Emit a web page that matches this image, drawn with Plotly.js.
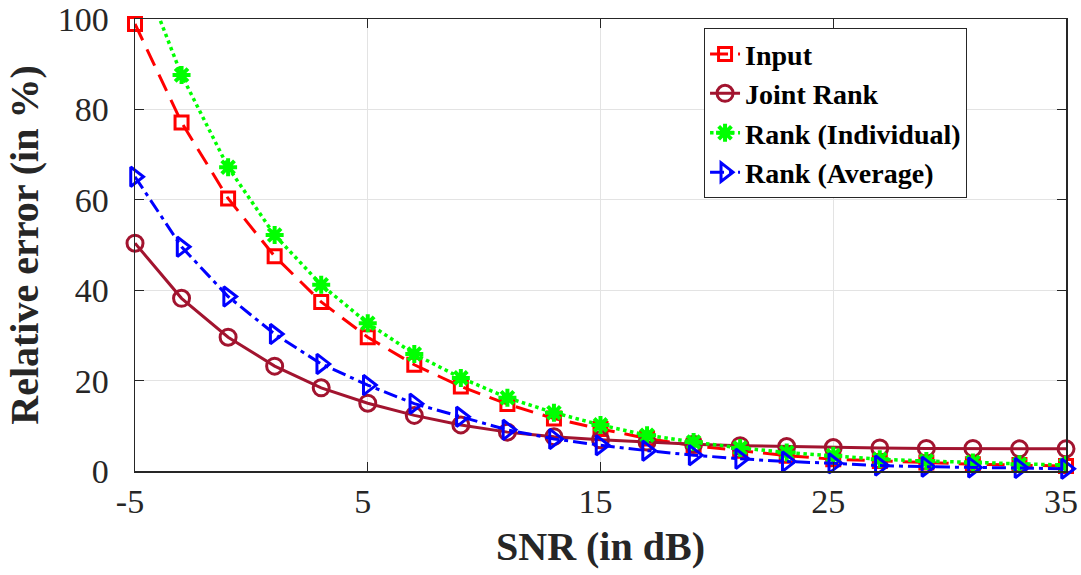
<!DOCTYPE html>
<html>
<head>
<meta charset="utf-8">
<script src="https://cdn.plot.ly/plotly-3.0.1.min.js"></script>
<style>html,body{margin:0;padding:0;background:#fff;}#chart{width:1081px;height:575px;}</style>
</head>
<body>
<div id="chart"></div>
<script>
const snr = [-5,-3,-1,1,3,5,7,9,11,13,15,17,19,21,23,25,27,29,31,33,35];
const inputErr = [98.9,77.1,60.3,47.5,37.4,29.6,23.5,18.7,14.8,11.6,9.3,7.2,5.6,4.5,3.4,2.6,2.2,1.9,1.5,1.3,1.1];
const jointRank = [50.4,38.2,29.6,23.2,18.4,15.0,12.3,10.2,8.6,7.6,6.9,6.4,5.9,5.6,5.4,5.2,5.1,5.0,5.0,4.9,4.9];
const rankIndividual = [114,87.6,67.2,52.2,41.2,32.7,25.9,20.6,16.2,12.9,10.2,7.9,6.4,5.1,4.1,3.4,2.6,2.2,1.9,1.5,1.3];
const rankAverage = [65.1,49.6,38.6,30.3,23.7,19.0,14.9,12.0,9.1,7.1,5.7,4.5,3.5,2.7,2.1,1.7,1.2,0.95,0.8,0.65,0.5];
const seriesNames = ['Input','Joint Rank','Rank (Individual)','Rank (Average)'];
const xTicks = [-5,5,15,25,35];
const yTicks = [0,20,40,60,80,100];

const serif = '"Liberation Serif", "Times New Roman", serif';

const traces = [
  {x: snr, y: inputErr, name: seriesNames[0], mode: 'lines+markers', cliponaxis: false,
   line: {color: '#FF0000', width: 3, dash: '18px,10px'},
   marker: {symbol: 'square-open', size: 13, color: '#FF0000', line: {width: 3, color: '#FF0000'}}},
  {x: snr, y: jointRank, name: seriesNames[1], mode: 'lines+markers', cliponaxis: false,
   line: {color: '#A2142F', width: 3, dash: 'solid'},
   marker: {symbol: 'circle-open', size: 16, color: '#A2142F', line: {width: 3, color: '#A2142F'}}},
  {x: snr, y: rankIndividual, name: seriesNames[2], mode: 'lines+markers', cliponaxis: true,
   line: {color: '#00FF00', width: 3.5, dash: 'dot'},
   marker: {symbol: 'asterisk-open', size: 15, color: '#00FF00', line: {width: 4, color: '#00FF00'}}},
  {x: snr, y: rankAverage, name: seriesNames[3], mode: 'lines+markers', cliponaxis: false,
   line: {color: '#0000FF', width: 3, dash: '14px,5px,4px,5px'},
   marker: {symbol: 'triangle-right-open', size: 17, color: '#0000FF', line: {width: 3, color: '#0000FF'}}}
];

const axisCommon = {
  showgrid: true, gridcolor: '#E3E3E3', gridwidth: 1.2,
  showline: true, linecolor: '#262626', linewidth: 1.5, mirror: 'ticks',
  ticks: 'inside', ticklen: 9, tickwidth: 1.2, tickcolor: '#262626',
  zeroline: false, ticklabeloverflow: 'allow',
  tickfont: {family: serif, size: 34, color: '#262626'}
};

const layout = {
  width: 1081, height: 575,
  margin: {l: 135, r: 15, t: 19, b: 104},
  paper_bgcolor: '#FFFFFF', plot_bgcolor: '#FFFFFF',
  showlegend: true,
  xaxis: Object.assign({}, axisCommon, {
    range: [-5, 35], tickvals: xTicks, ticktext: xTicks.map(String),
    ticklabelstandoff: 0, ticklabelshift: -5,
    title: {text: '<b>SNR (in dB)</b>', standoff: 12,
      font: {family: serif, size: 40, color: '#262626'}}
  }),
  yaxis: Object.assign({}, axisCommon, {
    range: [0, 100], tickvals: yTicks, ticktext: yTicks.map(String),
    ticklabelstandoff: 18,
    title: {text: '<b>Relative error (in %)</b>', standoff: 6,
      font: {family: serif, size: 40, color: '#262626'}}
  }),
  legend: {
    x: 0.611, y: 0.98, xanchor: 'left', yanchor: 'top',
    bgcolor: '#FFFFFF', bordercolor: '#262626', borderwidth: 1.2,
    font: {family: serif, size: 28, color: '#000000', weight: 'bold'},
    tracegroupgap: 0, itemwidth: 30
  }
};

Plotly.newPlot('chart', traces, layout, {displayModeBar: false, staticPlot: true});
</script>
</body>
</html>
